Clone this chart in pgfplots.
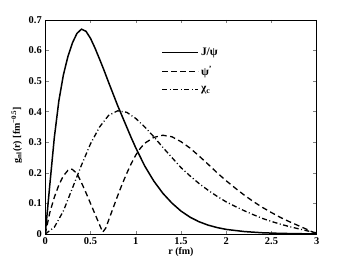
\documentclass[border=0pt]{standalone}
\usepackage{fontspec}
\setmainfont{Liberation Serif}
\usepackage{pgfplots}
\pgfplotsset{compat=1.18}
\begin{document}
\begin{tikzpicture}
\begin{axis}[
  scale only axis, width=271.7bp, height=214.2bp,
  xmin=0, xmax=3, ymin=0, ymax=0.7,
  xtick={0,0.5,1,1.5,2,2.5,3},
  ytick={0,0.1,0.2,0.3,0.4,0.5,0.6,0.7},
  /pgf/number format/assume math mode=true,
  tick label style={font=\fontsize{10.5}{11}\selectfont\bfseries},
  yticklabel style={/pgf/number format/fixed},
  major tick length=3.5bp,
  axis line style={line width=0.5bp},
  tick style={line width=0.5bp},
  label style={font=\fontsize{10}{11}\selectfont\bfseries},
  xlabel={r (fm)},
  ylabel={g\textsubscript{nl}(r) [fm\textsuperscript{−0.5}]},
  xlabel style={at={(axis description cs:0.5,-0.084)}, anchor=center},
  ylabel style={at={(axis description cs:-0.105,0.463)}, anchor=center},
  legend image code/.code={\draw[#1] (0bp,0bp) -- (36bp,0bp);},
  legend style={draw=none, fill=none, at={(axis cs:1.25,0.622)}, anchor=north west,
    font=\fontsize{11.5}{12}\selectfont\bfseries, row sep=5bp, nodes={inner sep=2bp}},
  legend cell align=left,
]
\coordinate (ll) at (rel axis cs:0,0);
\coordinate (ur) at (rel axis cs:1,1);
\addplot[black, line width=1.5bp] coordinates {
(0,0) (0.05,0.16) (0.1,0.315) (0.15,0.435) (0.2,0.52) (0.25,0.58) (0.3,0.625)
(0.35,0.656) (0.4,0.67) (0.45,0.663) (0.5,0.64) (0.55,0.608) (0.6,0.572)
(0.65,0.535) (0.7,0.496) (0.75,0.458) (0.8,0.42) (0.85,0.385) (0.9,0.35)
(0.95,0.315) (1.0,0.282) (1.1,0.222) (1.2,0.173) (1.3,0.133) (1.4,0.101)
(1.5,0.075) (1.6,0.055) (1.7,0.040) (1.8,0.029) (1.9,0.021) (2.0,0.015)
(2.2,0.008) (2.4,0.004) (2.6,0.002) (2.8,0.001) (3.0,0.0)
};
\addlegendentry{J/ψ}
\addplot[black, line width=1.3bp, dash pattern=on 5.5bp off 3.5bp] coordinates {
(0,0) (0.05,0.07) (0.1,0.12) (0.15,0.16) (0.2,0.19) (0.25,0.208) (0.28,0.213)
(0.3,0.211) (0.35,0.198) (0.4,0.168) (0.45,0.135) (0.5,0.1) (0.55,0.065)
(0.6,0.03) (0.635,0.006) (0.67,0.02) (0.7,0.045) (0.75,0.085) (0.8,0.125)
(0.85,0.163) (0.9,0.198) (0.95,0.23) (1.0,0.258) (1.05,0.28) (1.1,0.297)
(1.2,0.316) (1.3,0.323) (1.4,0.318) (1.5,0.302) (1.6,0.281) (1.7,0.255)
(1.8,0.228) (1.9,0.20) (2.0,0.174) (2.1,0.15) (2.2,0.127) (2.3,0.106)
(2.4,0.087) (2.5,0.07) (2.6,0.054) (2.7,0.04) (2.8,0.027) (2.9,0.014)
(2.95,0.007) (3.0,0.003)
};
\addlegendentry{ψ\textsuperscript{’}}
\addplot[black, line width=1.3bp, dash pattern=on 5bp off 2.5bp on 1bp off 2.5bp] coordinates {
(0,0) (0.1,0.022) (0.2,0.075) (0.3,0.150) (0.4,0.225) (0.5,0.295) (0.6,0.350)
(0.7,0.388) (0.8,0.403) (0.9,0.398) (1.0,0.378) (1.1,0.350) (1.2,0.318)
(1.3,0.283) (1.4,0.250) (1.5,0.217) (1.6,0.19) (1.7,0.165) (1.8,0.143)
(1.9,0.123) (2.0,0.105) (2.1,0.09) (2.2,0.076) (2.3,0.063) (2.4,0.051)
(2.5,0.041) (2.6,0.032) (2.7,0.024) (2.8,0.017) (2.9,0.01) (3.0,0.004)
};
\addlegendentry{χ\textsubscript{c}}
\end{axis}
\pgfresetboundingbox
\path[use as bounding box] ([xshift=-45.3bp,yshift=-28.8bp]ll) rectangle ([xshift=32.3bp,yshift=20bp]ur);
\end{tikzpicture}
\end{document}
